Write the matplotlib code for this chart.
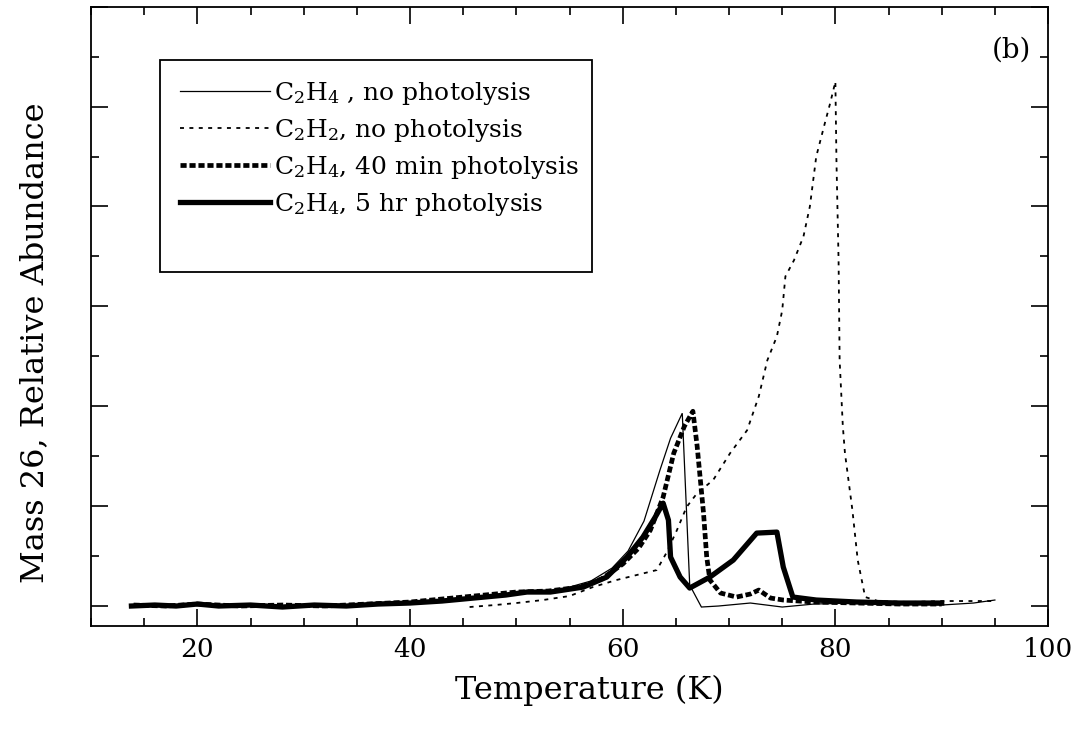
import matplotlib
matplotlib.use("Agg")
import matplotlib.pyplot as plt
from matplotlib.lines import Line2D
from matplotlib.patches import Rectangle
from matplotlib.ticker import MultipleLocator

# ---------------- data ----------------
t_c2h4_nophot = [14, 20, 30, 40, 45, 50, 54, 57, 59, 60.5, 62, 63.5, 64.5, 65.6,
                 66.3, 67.4, 69, 72, 75, 78, 82, 86, 90, 93, 95]
y_c2h4_nophot = [0.0, 0.01, 0.0, 0.03, 0.07, 0.12, 0.16, 0.25, 0.38, 0.55, 0.85,
                 1.36, 1.68, 1.93, 0.21, -0.01, 0.0, 0.03, -0.01, 0.02, 0.03,
                 0.02, 0.01, 0.03, 0.06]

t_c2h2_nophot = [45.6, 48, 50, 52.5, 55, 57.2, 59.4, 61.3, 63.2, 64.1, 65.1, 66.0,
                 67.0, 68.5, 70.1, 71.7, 72.8, 73.6, 74.5, 75.0, 75.3, 76.1, 77.0,
                 77.6, 78.2, 79.0, 79.5, 80.0, 80.1, 80.3, 80.4, 80.7, 80.9, 81.6,
                 82.1, 82.8, 84, 87, 90, 93, 95]
y_c2h2_nophot = [-0.01, 0.01, 0.03, 0.06, 0.1, 0.19, 0.26, 0.31, 0.36, 0.53, 0.76,
                 0.99, 1.13, 1.26, 1.53, 1.76, 2.1, 2.46, 2.7, 2.96, 3.3, 3.46,
                 3.7, 4.0, 4.5, 4.83, 5.03, 5.25, 4.46, 3.46, 2.46, 1.8, 1.53,
                 0.96, 0.46, 0.09, 0.05, 0.04, 0.05, 0.05, 0.05]

t_c2h4_40min = [14, 17, 20, 24, 28, 32, 36, 40, 44, 47, 50, 53, 56, 58, 60, 61.5,
                62.6, 63.8, 64.8, 65.8, 66.6, 67.0, 67.6, 67.9, 68.2, 69.2, 70.7,
                72.0, 72.8, 73.9, 75.1, 78, 82, 86, 90]
y_c2h4_40min = [0.01, 0.0, 0.02, 0.0, 0.01, 0.0, 0.02, 0.04, 0.08, 0.11, 0.14,
                0.15, 0.19, 0.27, 0.42, 0.58, 0.76, 1.09, 1.53, 1.8, 1.95, 1.6,
                0.93, 0.49, 0.26, 0.13, 0.09, 0.12, 0.16, 0.08, 0.06, 0.04, 0.03,
                0.02, 0.02]

t_c2h4_5hr = [13.8, 16, 18, 20, 22, 25, 28, 31, 34, 37, 40, 43, 46, 49, 51, 53.2,
              56.3, 58.5, 60.4, 61.9, 63.0, 63.8, 64.3, 64.5, 65.4, 66.3, 68.2,
              70.4, 72.6, 74.5, 75.1, 76.0, 78.2, 82, 86, 90]
y_c2h4_5hr = [0.0, 0.01, 0.0, 0.02, 0.0, 0.01, -0.01, 0.01, 0.0, 0.02, 0.03,
              0.05, 0.08, 0.11, 0.14, 0.14, 0.19, 0.29, 0.49, 0.69, 0.88, 1.03,
              0.86, 0.49, 0.29, 0.18, 0.29, 0.46, 0.73, 0.74, 0.39, 0.09, 0.06,
              0.04, 0.03, 0.03]

labels = [r"C$_2$H$_4$ , no photolysis",
          r"C$_2$H$_2$, no photolysis",
          r"C$_2$H$_4$, 40 min photolysis",
          r"C$_2$H$_4$, 5 hr photolysis"]

# ---------------- styling ----------------
plt.rcParams['font.family'] = ['DejaVu Serif']
plt.rcParams['mathtext.fontset'] = 'dejavuserif'

FS = 18
fig = plt.figure(figsize=(10.89, 7.35), dpi=100)
ax = fig.add_axes([0.0836, 0.1483, 0.8788, 0.8426])

ls_thin = dict(color='black', lw=0.9, solid_joinstyle='miter')
ls_dot = dict(color='black', lw=1.3, linestyle=(0, (2.2, 3.0)))
ls_dash = dict(color='black', lw=3.4, linestyle=(0, (1.3, 0.6)),
               dash_capstyle='butt')
ls_thick = dict(color='black', lw=3.8, solid_joinstyle='round')

ax.plot(t_c2h4_nophot, y_c2h4_nophot, **ls_thin)
ax.plot(t_c2h2_nophot, y_c2h2_nophot, **ls_dot)
ax.plot(t_c2h4_40min, y_c2h4_40min, **ls_dash)
ax.plot(t_c2h4_5hr, y_c2h4_5hr, **ls_thick)

ax.set_xlim(10, 100)
ax.set_ylim(-0.2, 6.0)
ax.xaxis.set_major_locator(MultipleLocator(20))
ax.xaxis.set_minor_locator(MultipleLocator(5))
ax.yaxis.set_major_locator(MultipleLocator(1))
ax.yaxis.set_minor_locator(MultipleLocator(0.5))
ax.tick_params(which='both', direction='in', top=True, right=True,
               width=1.2, labelsize=19)
ax.tick_params(which='major', length=12)
ax.tick_params(which='minor', length=6)
ax.tick_params(axis='y', labelleft=False)
ax.tick_params(axis='x', pad=8)
for s in ax.spines.values():
    s.set_linewidth(1.3)

ax.set_xlabel("Temperature (K)", fontsize=23)
ax.set_ylabel("Mass 26, Relative Abundance", fontsize=23)
ax.xaxis.set_label_coords(0.521, -0.078)
ax.yaxis.set_label_coords(-0.043, 0.457)

ax.text(0.982, 0.93, "(b)", transform=ax.transAxes, fontsize=20,
        ha='right', va='center')

handles = [Line2D([], [], **ls_thin), Line2D([], [], **ls_dot),
           Line2D([], [], **ls_dash), Line2D([], [], **ls_thick)]
leg = ax.legend(handles, labels, loc='upper left',
                bbox_to_anchor=(0.093, 0.882), frameon=False, fontsize=FS,
                handlelength=3.6, handletextpad=0.15, labelspacing=0.4,
                borderaxespad=0, borderpad=0)
ax.add_patch(Rectangle((0.0721, 0.5716), 0.4514, 0.3424,
                       transform=ax.transAxes, fill=False, lw=1.3,
                       edgecolor='black', zorder=5))

fig.savefig("out.png", dpi=100)
